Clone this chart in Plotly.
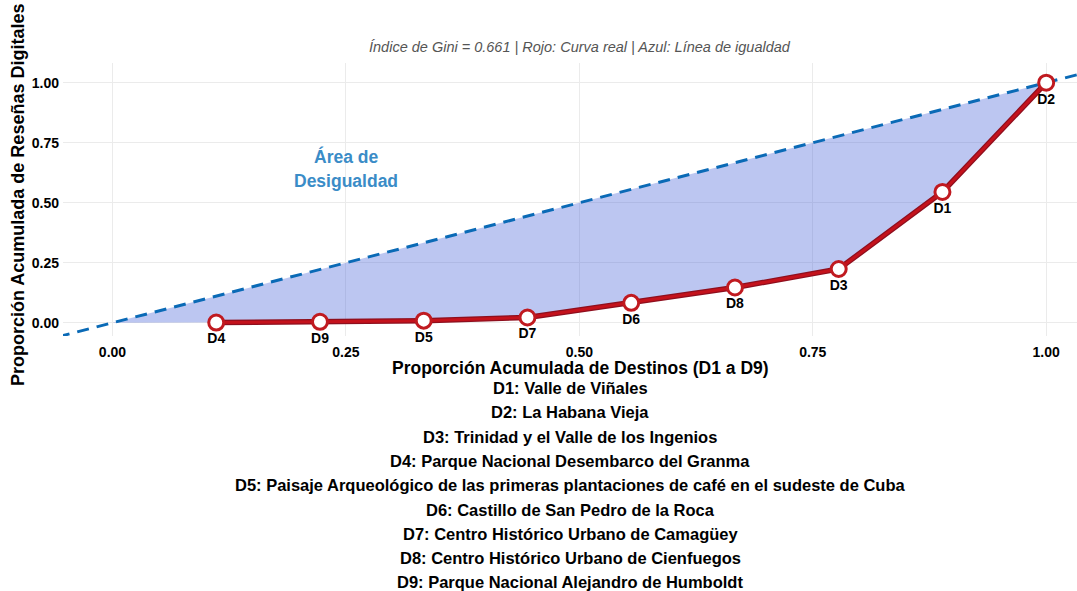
import plotly.graph_objects as go

# ---- data ----
destinos = ["D4", "D9", "D5", "D7", "D6", "D8", "D3", "D1", "D2"]
prop_destinos = [1/9, 2/9, 3/9, 4/9, 5/9, 6/9, 7/9, 8/9, 1.0]
prop_resenas = [0.001, 0.004, 0.009, 0.022, 0.083, 0.147, 0.224, 0.545, 1.0]
igualdad_x = [-0.1, 1.1]
igualdad_y = [-0.1, 1.1]
x_ticks = [0.0, 0.25, 0.5, 0.75, 1.0]
y_ticks = [0.0, 0.25, 0.5, 0.75, 1.0]
leyenda = [
    "D1: Valle de Viñales",
    "D2: La Habana Vieja",
    "D3: Trinidad y el Valle de los Ingenios",
    "D4: Parque Nacional Desembarco del Granma",
    "D5: Paisaje Arqueológico de las primeras plantaciones de café en el sudeste de Cuba",
    "D6: Castillo de San Pedro de la Roca",
    "D7: Centro Histórico Urbano de Camagüey",
    "D8: Centro Histórico Urbano de Cienfuegos",
    "D9: Parque Nacional Alejandro de Humboldt",
]
gini = 0.661
subtitulo = f"Índice de Gini = {gini:.3f} | Rojo: Curva real | Azul: Línea de igualdad"
titulo_x = "Proporción Acumulada de Destinos (D1 a D9)"
titulo_y = "Proporción Acumulada de Reseñas Digitales"

FONT = "Liberation Sans, Arial, sans-serif"

fig = go.Figure()

# area of inequality polygon: (0,0) -> Lorenz points -> back along equality line
poly_x = [0.0] + prop_destinos + [0.0]
poly_y = [0.0] + prop_resenas + [0.0]
fig.add_trace(go.Scatter(
    x=poly_x, y=poly_y, mode="lines", fill="toself",
    fillcolor="rgba(64,92,214,0.35)", line=dict(width=0),
    hoverinfo="skip", showlegend=False,
))

# equality line
fig.add_trace(go.Scatter(
    x=igualdad_x, y=igualdad_y, mode="lines",
    line=dict(color="#0a6ab6", width=3, dash="12px,8px"),
    hoverinfo="skip", showlegend=False,
))

# Lorenz curve (dark underlay + red line)
fig.add_trace(go.Scatter(
    x=prop_destinos, y=prop_resenas, mode="lines",
    line=dict(color="#8e0f1e", width=5.5),
    hoverinfo="skip", showlegend=False,
))
fig.add_trace(go.Scatter(
    x=prop_destinos, y=prop_resenas, mode="lines+markers+text",
    line=dict(color="#c4121c", width=3),
    marker=dict(size=15, color="white", line=dict(color="#c01a20", width=3)),
    text=destinos, textposition="bottom center", cliponaxis=False,
    textfont=dict(family=FONT, size=14, color="black", weight="bold"),
    hoverinfo="skip", showlegend=False,
))

L, R, T, B = 63, 0, 63, 255
W, H = 1077, 591
pw = W - L - R
ph = H - T - B
cx = (580 - L) / pw
cx_leg = (570 - L) / pw

ann = []
# subtitle
ann.append(dict(text=subtitulo, xref="paper", yref="paper", x=cx, y=1,
                yshift=(T - 47), xanchor="center", yanchor="middle", showarrow=False,
                font=dict(family=FONT, size=14.5, color="#555555", style="italic")))
# y title
ann.append(dict(text=titulo_y, xref="paper", yref="paper", x=(18 - L) / pw, y=(ph - (195 - T)) / ph,
                textangle=-90, xanchor="center", yanchor="middle", showarrow=False,
                font=dict(family=FONT, size=18, color="black", weight="bold")))
# x title
ann.append(dict(text=titulo_x, xref="paper", yref="paper", x=cx, y=0, yshift=-(368 - (T + ph)),
                xanchor="center", yanchor="middle", showarrow=False,
                font=dict(family=FONT, size=17.5, color="black", weight="bold")))
# legend lines
for i, t in enumerate(leyenda):
    ypix = 388 + i * 24.3
    ann.append(dict(text=t, xref="paper", yref="paper", x=cx_leg, y=0, yshift=-(ypix - (T + ph)),
                    xanchor="center", yanchor="middle", showarrow=False,
                    font=dict(family=FONT, size=16.5, color="black", weight="bold")))
# inequality area label
for t, dy in (("Área de", 12.5), ("Desigualdad", -12.5)):
    ann.append(dict(text=t, x=0.25, y=0.642, yshift=dy, xanchor="center", yanchor="middle",
                    showarrow=False,
                    font=dict(family=FONT, size=17.5, color="#3a8cc7", weight="bold")))

fig.update_layout(
    width=W, height=H,
    margin=dict(l=L, r=R, t=T, b=B),
    paper_bgcolor="white", plot_bgcolor="white",
    annotations=ann,
    xaxis=dict(range=[-0.053, 1.033], tickvals=x_ticks, tickformat=".2f",
               showgrid=True, gridcolor="#ebebeb", gridwidth=1, zeroline=False,
               showline=False, ticks="", ticklabelstandoff=6,
               tickfont=dict(family=FONT, size=14, color="black", weight="bold")),
    yaxis=dict(range=[-0.055, 1.082], tickvals=y_ticks, tickformat=".2f",
               showgrid=True, gridcolor="#ebebeb", gridwidth=1, zeroline=False,
               showline=False, ticks="", ticklabelstandoff=3,
               tickfont=dict(family=FONT, size=14, color="black", weight="bold")),
)

fig.write_html("out.html", config={"displayModeBar": False},
               post_script="document.body.style.margin='0';document.body.style.padding='0';")
